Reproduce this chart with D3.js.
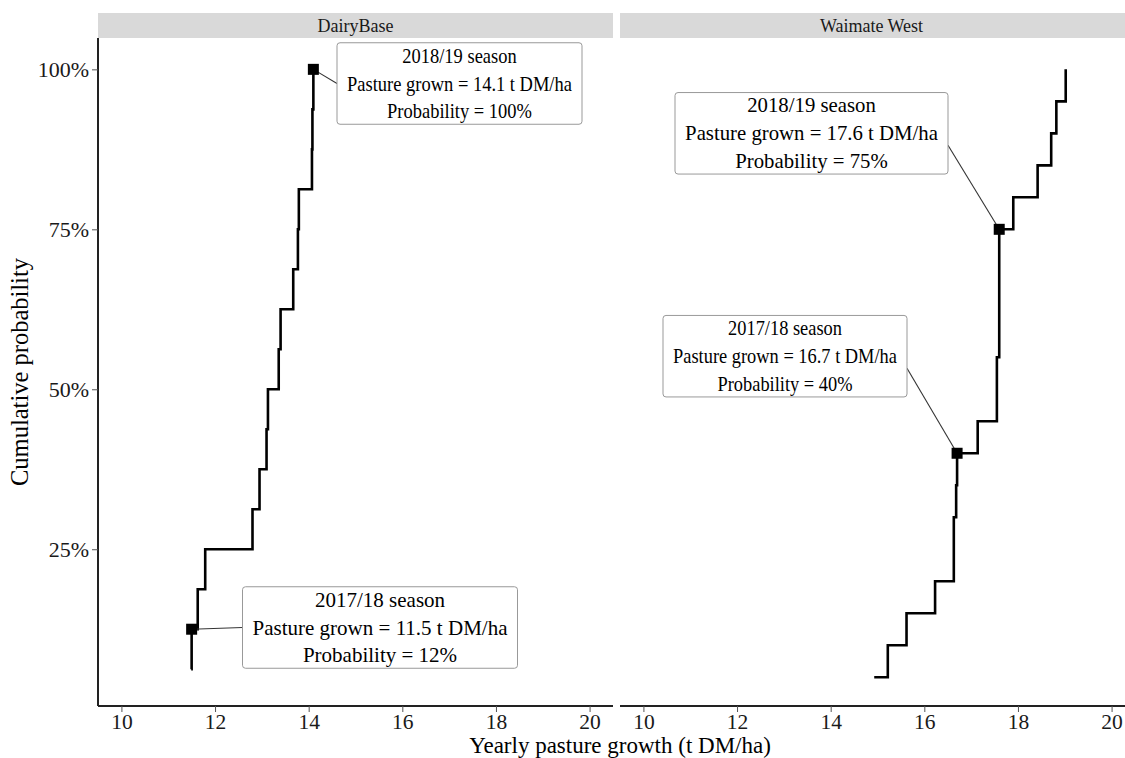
<!DOCTYPE html>
<html>
<head>
<meta charset="utf-8">
<script src="https://cdn.jsdelivr.net/npm/d3@7"></script>
<style>
  body { margin: 0; background: #fff; }
  text { font-family: "Liberation Serif", "Times New Roman", serif; }
</style>
</head>
<body>
<div id="container"></div>
<script>
// farms (facets)
const panels = ["DairyBase", "Waimate West"];

// yearly pasture growth, t DM/ha, sorted
const dairyGrowth = [11.49, 11.5, 11.63, 11.79, 12.8, 12.95, 13.1, 13.13,
  13.36, 13.4, 13.67, 13.77, 13.79, 14.07, 14.08, 14.1];
const waimateGrowth = [14.93, 15.22, 15.62, 16.23, 16.63, 16.63, 16.68, 16.7,
  17.14, 17.55, 17.55, 17.6, 17.6, 17.6, 17.6, 17.9, 18.42, 18.71, 18.82, 19.02];

const xTicks = [10, 12, 14, 16, 18, 20];
const yTicks = [0.25, 0.5, 0.75, 1];

// highlighted seasons
const labelPanel = [0, 0, 1, 1];
const labelSeason = ["2018/19", "2017/18", "2018/19", "2017/18"];
const labelGrowth = [14.1, 11.5, 17.6, 16.7];
const labelProb = [1.0, 0.125, 0.75, 0.4];

// where the label boxes sit (page px) and where the leader meets them
const labelLayout = [
  {cx: 459.5, cy: 83.5, w: 245, side: "left", dy: 0},
  {cx: 380, cy: 627.5, w: 275, side: "left", dy: 0},
  {cx: 811.5, cy: 133.3, w: 273, side: "right", dy: 12},
  {cx: 785, cy: 356.2, w: 244, side: "right", dy: 12}
];

const width = 1125, height = 758;
const plotTop = 38, plotBottom = 706;
const panelW = 515;
const panelX = [98, 620];

const svg = d3.select("#container").append("svg")
  .attr("width", width)
  .attr("height", height);

const x = d3.scaleLinear().domain([9.5, 20.5]).range([0, panelW]);
const y = d3.scaleLinear().domain([0.005, 1.049]).range([plotBottom, plotTop]);

const series = [dairyGrowth, waimateGrowth].map(vals =>
  vals.map((v, i) => ({x: v, p: (i + 1) / vals.length})));

const step = d3.line()
  .x(d => x(d.x))
  .y(d => y(d.p))
  .curve(d3.curveStepAfter);

panels.forEach((name, k) => {
  const g = svg.append("g").attr("transform", `translate(${panelX[k]},0)`);

  // strip
  g.append("rect")
    .attr("x", 0).attr("y", 13)
    .attr("width", panelW).attr("height", 25)
    .attr("fill", "#d9d9d9");
  g.append("text")
    .attr("x", panelW / 2 - (k === 1 ? 6 : 0)).attr("y", 32)
    .attr("text-anchor", "middle")
    .attr("font-size", 18)
    .attr("fill", "#1a1a1a")
    .text(name);

  // x axis
  const xa = g.append("g")
    .attr("transform", `translate(0,${plotBottom})`)
    .call(d3.axisBottom(x).tickValues(xTicks).tickSize(6).tickPadding(2));
  xa.select(".domain").attr("stroke", "#222").attr("stroke-width", 2)
    .attr("d", `M0,0H${panelW}`);
  xa.selectAll(".tick line").attr("stroke", "#555").attr("stroke-width", 1);
  xa.selectAll(".tick text")
    .attr("font-size", 21.5).attr("fill", "#1a1a1a");

  if (k === 0) {
    const ya = g.append("g")
      .call(d3.axisLeft(y).tickValues(yTicks).tickSize(6).tickPadding(3)
        .tickFormat(d3.format(".0%")));
    ya.select(".domain").attr("stroke", "#222").attr("stroke-width", 2)
      .attr("d", `M0,${plotTop}V${plotBottom}`);
    ya.selectAll(".tick line").attr("stroke", "#555").attr("stroke-width", 1);
    ya.selectAll(".tick text")
      .attr("font-size", 22).attr("fill", "#1a1a1a");
  }

  g.append("path")
    .datum(series[k])
    .attr("fill", "none")
    .attr("stroke", "#000")
    .attr("stroke-width", 2.6)
    .attr("d", step);
});

// labels
labelGrowth.forEach((v, i) => {
  const k = labelPanel[i];
  const px = panelX[k] + x(v);
  const py = y(labelProb[i]);
  const L = labelLayout[i];
  const h = 81.5;
  const ex = L.side === "left" ? L.cx - L.w / 2 : L.cx + L.w / 2;
  const ey = L.cy + L.dy;

  svg.append("line")
    .attr("x1", px).attr("y1", py)
    .attr("x2", ex).attr("y2", ey)
    .attr("stroke", "#333")
    .attr("stroke-width", 1.1);

  svg.append("rect")
    .attr("x", px - 5.5).attr("y", py - 5.5)
    .attr("width", 11).attr("height", 11)
    .attr("fill", "#000");

  const box = svg.append("g").attr("transform", `translate(${L.cx},${L.cy})`);
  box.append("rect")
    .attr("x", -L.w / 2).attr("y", -h / 2)
    .attr("width", L.w).attr("height", h)
    .attr("rx", 3)
    .attr("fill", "#fff")
    .attr("stroke", "#999")
    .attr("stroke-width", 1);

  const lines = [
    `${labelSeason[i]} season`,
    `Pasture grown = ${v.toFixed(1)} t DM/ha`,
    `Probability = ${Math.floor(labelProb[i] * 100 + 1e-9)}%`
  ];
  const tg = box.append("g");
  tg.selectAll("text")
    .data(lines)
    .join("text")
    .attr("x", 0)
    .attr("y", (d, j) => (j - 1) * 28 + 7)
    .attr("text-anchor", "middle")
    .attr("font-size", 21)
    .attr("fill", "#000")
    .text(d => d);
  const tw = d3.max(tg.selectAll("text").nodes(), n => n.getComputedTextLength());
  tg.attr("transform", `scale(${(L.w - 20) / tw},1)`);
});

// axis titles
svg.append("text")
  .attr("x", 620).attr("y", 753)
  .attr("text-anchor", "middle")
  .attr("font-size", 23)
  .attr("fill", "#000")
  .text("Yearly pasture growth (t DM/ha)");

svg.append("text")
  .attr("transform", "translate(28,372) rotate(-90)")
  .attr("text-anchor", "middle")
  .attr("font-size", 24.5)
  .attr("fill", "#000")
  .text("Cumulative probability");
</script>
</body>
</html>
